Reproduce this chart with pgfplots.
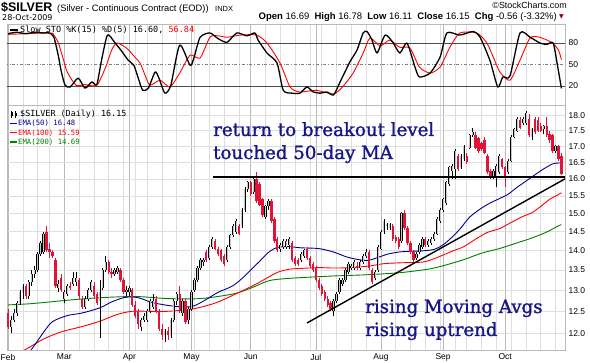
\documentclass[border=0pt]{standalone}
\usepackage{pgfplots}
\pgfplotsset{compat=1.18}
\usepackage{pgfplotstable}
\usepackage{fontspec}
\setmainfont{Liberation Sans}
\newfontfamily\monof{DejaVu Sans Mono}
\newfontfamily\dejavu{DejaVu Sans}
\newfontfamily\annotf[FakeBold=1.3]{DejaVu Serif}
\definecolor{annot}{RGB}{22,22,135}
\definecolor{emaB}{RGB}{0,0,150}
\definecolor{emaR}{RGB}{255,0,0}
\definecolor{emaG}{RGB}{0,128,0}
\definecolor{candR}{RGB}{225,20,55}
\definecolor{gridL}{RGB}{222,222,222}
\definecolor{gridM}{RGB}{185,185,185}

% daily OHLC (price, $)
\pgfplotstableread{
i O H L C
0 12.45 12.55 12.10 12.15
1 12.15 12.40 12.00 12.30
2 12.30 12.55 12.25 12.45
3 12.45 12.75 12.40 12.70
4 12.70 13.00 12.65 12.95
5 12.95 13.15 12.80 13.10
6 13.10 13.15 12.80 12.85
7 12.85 13.25 12.80 13.20
8 13.20 13.50 13.10 13.40
9 13.40 13.60 13.30 13.50
10 13.50 13.95 13.45 13.90
11 13.90 14.25 13.85 14.20
12 13.95 14.50 13.90 14.45
13 14.50 14.65 13.95 14.00
14 14.05 14.20 13.80 13.95
15 13.95 14.00 13.80 13.85
16 13.75 13.80 13.05 13.10
17 13.05 13.25 12.95 13.15
18 13.30 13.40 12.95 13.00
19 12.80 13.00 12.70 12.95
20 12.90 13.15 12.85 13.10
21 13.10 13.20 13.00 13.05
22 13.15 13.45 13.10 13.30
23 13.20 13.45 13.10 13.30
24 13.25 13.30 12.80 12.85
25 12.80 12.85 12.55 12.60
26 12.60 12.85 12.55 12.80
27 12.80 13.05 12.75 13.00
28 13.00 13.25 12.95 13.20
29 13.10 13.20 12.80 12.85
30 12.90 12.95 12.65 12.70
31 12.75 13.25 11.90 12.95
32 13.05 13.55 13.00 13.50
33 13.50 13.85 13.45 13.70
34 13.70 13.75 13.40 13.45
35 13.45 13.55 13.30 13.40
36 13.40 13.55 13.35 13.50
37 13.45 13.60 13.40 13.55
38 13.50 13.55 13.20 13.25
39 13.25 13.30 12.90 12.95
40 12.95 13.10 12.85 13.00
41 12.95 13.10 12.85 13.05
42 13.00 13.05 12.60 12.65
43 12.65 12.75 12.35 12.40
44 12.50 12.55 12.10 12.20
45 12.15 12.35 12.05 12.30
46 12.30 12.45 12.25 12.40
47 12.30 12.55 12.25 12.50
48 12.50 12.80 12.45 12.75
49 12.60 12.90 12.55 12.75
50 12.80 12.85 12.45 12.50
51 12.50 12.55 12.05 12.10
52 12.10 12.20 11.85 11.95
53 11.95 12.10 11.80 12.05
54 12.05 12.15 11.85 11.95
55 11.95 12.35 11.90 12.30
56 12.30 12.80 12.25 12.75
57 12.75 12.95 12.65 12.90
58 12.90 13.10 12.45 12.50
59 12.45 12.80 12.40 12.75
60 12.75 12.80 12.20 12.25
61 12.30 12.60 12.20 12.55
62 12.55 13.00 12.50 12.95
63 13.00 13.30 12.95 13.25
64 13.25 13.60 13.20 13.55
65 13.55 13.80 13.50 13.75
66 13.70 13.80 13.60 13.75
67 13.95 14.00 13.70 13.75
68 13.80 14.15 13.75 14.10
69 14.10 14.35 14.05 14.30
70 14.25 14.30 14.00 14.05
71 14.05 14.10 13.85 13.90
72 14.00 14.05 13.70 13.75
73 13.85 13.90 13.60 13.65
74 13.75 14.15 13.70 14.10
75 14.10 14.45 14.05 14.40
76 14.40 14.70 14.35 14.65
77 14.50 14.85 14.45 14.80
78 14.65 14.70 14.40 14.45
79 14.65 15.15 14.60 15.10
80 15.10 15.75 15.05 15.70
81 15.70 15.95 15.60 15.90
82 15.90 15.95 15.50 15.55
83 15.60 16.05 15.55 16.00
84 16.00 16.20 15.30 15.35
85 15.85 15.90 15.20 15.25
86 15.40 15.45 14.90 14.95
87 14.90 15.25 14.85 15.20
88 15.20 15.40 15.10 15.35
89 15.35 15.40 14.75 14.80
90 14.85 14.90 14.20 14.25
91 14.30 14.35 13.95 14.00
92 14.05 14.20 13.95 14.15
93 14.10 14.30 14.05 14.25
94 14.10 14.30 14.05 14.25
95 14.15 14.35 14.05 14.30
96 14.20 14.25 13.70 13.75
97 13.80 13.85 13.60 13.65
98 13.75 13.80 13.60 13.65
99 13.75 13.95 13.70 13.90
100 13.85 14.05 13.80 14.00
101 14.05 14.10 13.75 13.80
102 13.80 13.85 13.55 13.60
103 13.65 13.70 13.45 13.50
104 13.55 13.60 13.20 13.25
105 13.25 13.30 13.00 13.05
106 13.10 13.15 12.85 12.90
107 12.95 13.00 12.75 12.80
108 12.80 12.85 12.60 12.65
109 12.70 12.75 12.50 12.55
110 12.50 12.80 12.40 12.75
111 12.75 12.95 12.70 12.90
112 12.95 13.30 12.90 13.25
113 13.15 13.30 13.10 13.25
114 13.25 13.55 13.20 13.50
115 13.45 13.70 13.40 13.65
116 13.55 13.65 13.50 13.60
117 13.55 13.75 13.50 13.70
118 13.60 13.70 13.50 13.55
119 13.55 13.75 13.50 13.70
120 13.70 13.90 13.65 13.85
121 13.85 14.05 13.80 13.95
122 13.95 14.00 13.50 13.55
123 13.50 13.55 13.15 13.20
124 13.30 13.50 13.25 13.45
125 13.50 14.15 13.45 14.10
126 14.05 14.55 14.00 14.50
127 14.50 14.85 14.45 14.80
128 14.65 14.75 14.55 14.70
129 14.60 14.75 14.55 14.70
130 14.65 14.70 14.25 14.30
131 14.35 14.40 14.20 14.25
132 14.30 14.35 14.05 14.10
133 14.25 15.05 14.20 15.00
134 15.00 15.10 14.55 14.60
135 14.60 14.65 14.15 14.20
136 14.20 14.25 13.90 13.95
137 13.95 14.00 13.65 13.75
138 13.80 13.95 13.75 13.90
139 13.95 14.20 13.90 14.15
140 14.10 14.35 14.05 14.30
141 14.30 14.35 14.10 14.15
142 14.15 14.30 14.10 14.25
143 14.20 14.35 14.15 14.30
144 14.30 14.50 14.25 14.45
145 14.45 14.90 14.40 14.85
146 14.80 15.15 14.75 15.10
147 15.10 15.45 15.05 15.40
148 15.30 15.95 15.25 15.90
149 15.85 16.40 15.80 16.35
150 16.25 16.45 16.00 16.40
151 16.30 16.90 16.00 16.85
152 16.70 16.75 16.25 16.30
153 16.35 16.75 16.30 16.70
154 16.60 17.05 16.55 17.00
155 16.70 16.80 16.45 16.50
156 16.95 17.40 16.90 17.35
157 17.35 17.60 17.30 17.45
158 17.35 17.45 16.90 16.95
159 17.25 17.30 16.80 16.85
160 17.10 17.15 16.85 16.90
161 17.20 17.30 16.75 16.80
162 16.70 16.75 16.15 16.20
163 16.25 16.30 16.00 16.05
164 16.10 16.30 16.00 16.25
165 16.10 16.45 15.75 16.40
166 16.20 16.75 16.15 16.70
167 16.60 16.65 16.30 16.35
168 16.35 16.40 15.75 16.05
169 16.20 16.60 16.15 16.55
170 16.55 17.35 16.50 17.30
171 17.30 17.60 17.25 17.55
172 17.50 17.95 17.45 17.90
173 17.85 17.95 17.55 17.60
174 17.75 17.95 17.70 17.90
175 17.75 18.15 17.70 18.10
176 17.90 18.05 17.30 17.35
177 17.30 17.60 17.20 17.55
178 17.90 17.95 17.40 17.45
179 17.85 17.95 17.45 17.50
180 17.65 17.75 17.45 17.50
181 17.55 17.70 17.40 17.65
182 17.65 17.95 17.30 17.35
183 17.40 17.50 17.10 17.20
184 17.35 17.40 16.80 16.85
185 16.85 17.05 16.80 17.00
186 17.00 17.05 16.55 16.60
187 16.69 16.78 16.11 16.15
}\price

\pgfplotstableread{
i v
5 11.45
8 11.65
12 12.02
15 12.26
20 12.40
25 12.46
31 12.58
35 12.72
39 12.82
42 12.84
45 12.80
48 12.72
52 12.66
56 12.62
60 12.60
63 12.63
67 12.78
71 12.95
76 13.11
80 13.35
82 13.50
85 13.72
88 13.95
91 14.08
95 14.10
99 14.07
105 14.05
110 13.96
115 13.82
121 13.74
125 13.82
128 13.90
132 13.96
136 13.98
140 13.99
144 14.03
147 14.15
150 14.35
153 14.60
156 14.90
160 15.15
163 15.30
166 15.42
169 15.55
172 15.75
175 15.93
178 16.12
181 16.30
184 16.45
186 16.48
187 16.48
}\emaA

\pgfplotstableread{
i v
3 11.55
7 11.68
12 11.87
18 12.03
25 12.15
31 12.27
37 12.43
42 12.50
48 12.50
54 12.50
62 12.55
67 12.63
71 12.72
76 12.88
83 13.12
87 13.28
91 13.44
95 13.52
99 13.54
105 13.56
110 13.55
116 13.56
122 13.60
127 13.66
132 13.68
136 13.69
140 13.70
143 13.76
146 13.85
150 13.98
154 14.10
158 14.30
162 14.48
166 14.58
170 14.75
174 14.92
177 15.02
180 15.20
183 15.40
186 15.54
187 15.59
}\emaB

\pgfplotstableread{
i v
0 12.65
8 12.68
20 12.76
31 12.82
42 12.85
48 12.83
54 12.80
65 12.80
76 12.91
82 13.05
88 13.23
93 13.28
99 13.31
110 13.35
121 13.38
132 13.43
140 13.50
144 13.55
150 13.67
155 13.79
160 13.93
166 14.05
172 14.20
177 14.33
182 14.49
186 14.66
187 14.69
}\emaC

\pgfplotstableread{
i k
0 93
3 95
6 93
9 95
12 94
14 94
15.5 88
17 62
18 40
19.3 21
21 18.6
23.7 31
26 17
28.3 25.6
30 22
31.6 56
33.6 91
36 81
38.5 68
40.6 56
42.5 49
44 31
45.5 14
47.4 17
49.7 39.5
51 31
53 10
55 21
58 77
61.5 49
62.8 59
64.9 88
68.2 94
71 86
74 81
77.3 94
80.7 90
83.4 94
84.5 84
87.5 66
90.9 52
93 14
96 10
98.6 10
101 18.6
103 12
105.4 10
107.8 11.6
110 7.5
112.2 25.6
115.5 53.5
117.9 70
120 94
121.3 96
123 84
124.7 66
127.4 91
130 81
132.4 66
134.8 80
137.5 46.5
139 32.6
142.6 38
146 60.5
148.3 94
152.7 91
157.1 96
159.5 88
162.8 56
165.5 18.6
167.2 32.6
169.6 34
173 94
176.4 88
179.7 80
182 78
184.2 80
185.6 50
187 16.6
}\stoK

\pgfplotstableread{
i d
0 92
14 94
15.5 91
17 80
18.5 60
20 39.5
23 21
26 22
30 21
33 46.5
35 70
36.8 80
40 73
42.5 62
44.6 52
46.5 33
48 21
51.4 28
54.7 18.6
58 38
61.5 63
64.9 59
68.2 88
71 90
74 88
78.4 91
84 91
87.5 80
91.9 52
95.3 18.6
98.6 11.6
104 14
110 9
113 18.6
116.6 38
120 66
122.3 87
125.7 76
129 84
132.4 74
135.8 73
139 46.5
142.6 38
146 46.5
149.3 74
152.7 94
158.4 94
161.8 80
164 60
166.2 39.5
169.6 28
173 56
176.4 87
179.7 88
184 80
186 70
187 56.84
}\stoD

\pgfplotstableread{
i p
101 12.23
188.2 16.0
}\trend

\pgfplotstableread{
i p
69.3 16.06
188.2 16.06
}\breakout

\pgfplotsset{
  panel/.style={
    scale only axis, width=558pt, xmin=-0.35, xmax=188.2,
    axis line style={gray!55},
    major tick length=0pt, minor tick length=0pt,
    xtick={0,19,41,62,82,104,126,147,168},
    minor xtick={5,10,14,24,29,34,39,43,47,52,57,63,68,73,78,87,92,97,102,106,111,116,121,131,136,141,146,151,155,160,165,170,175,180,185},
    xmajorgrids, xminorgrids,
    major grid style={gridM, line width=0.5pt},
    minor grid style={gridL, line width=0.5pt},
    yticklabel pos=right,
    tick label style={font=\fontsize{8.5}{10}\selectfont},
    every axis plot/.append style={line join=round},
  },
  wick/.style={draw=none, mark=none, forget plot,
    error bars/y dir=plus, error bars/y explicit, error bars/error mark=none,
    error bars/error bar style={draw=#1, solid, line width=0.55pt}},
  body/.style 2 args={draw=none, mark=none, forget plot,
    error bars/y dir=plus, error bars/y explicit, error bars/error mark=none,
    error bars/error bar style={draw=#1, solid, line width=#2, line cap=butt}},
}

\begin{document}
\begin{tikzpicture}[x=1pt,y=1pt]
\path[use as bounding box, fill=white] (0,0) rectangle (590,363);

% ---------- stochastic panel ----------
\begin{axis}[panel, at={(7pt,258pt)}, anchor=south west, height=81pt,
  ymin=-6.5, ymax=106.5, ytick={20,50,80}, yticklabels={20,50,80},
  xticklabels={}]
\addplot[black!70, line width=0.6pt, forget plot] coordinates {(-1,80) (190,80)};
\addplot[black!70, line width=0.6pt, forget plot] coordinates {(-1,20) (190,20)};
\addplot[gray, dash dot, line width=0.7pt, forget plot] coordinates {(-1,50) (190,50)};
\addplot[emaR, line width=0.9pt, smooth, tension=0.4] table[x=i, y=d]{\stoD};
\addplot[black, line width=1.3pt, smooth, tension=0.4] table[x=i, y=k]{\stoK};
\end{axis}

% ---------- price panel (log scale, plotted as ln of price) ----------
\begin{axis}[panel, at={(7pt,13pt)}, anchor=south west, height=245pt,
  ymin=2.45359, ymax=2.91017,
  ytick={2.484907,2.525729,2.564949,2.602690,2.639057,2.674149,2.708050,2.740840,2.772589,2.803360,2.833213,2.862201,2.890372},
  yticklabels={12.0,12.5,13.0,13.5,14.0,14.5,15.0,15.5,16.0,16.5,17.0,17.5,18.0},
  minor ytick={2.484907,2.525729,2.564949,2.602690,2.639057,2.674149,2.708050,2.740840,2.772589,2.803360,2.833213,2.862201,2.890372},
  yminorgrids,
  xticklabels={Feb,Mar,Apr,May,Jun,Jul,Aug,Sep,Oct},
  xticklabel style={yshift=-0.5pt}]
% moving averages
\addplot[emaG, line width=0.9pt, smooth, tension=0.5] table[x=i, y expr=ln(\thisrow{v})]{\emaC};
\addplot[emaR, line width=0.9pt, smooth, tension=0.5] table[x=i, y expr=ln(\thisrow{v})]{\emaB};
\addplot[emaB, line width=0.9pt, smooth, tension=0.5] table[x=i, y expr=ln(\thisrow{v})]{\emaA};
% candles: up
\addplot[restrict expr to domain={\thisrow{C}-\thisrow{O}}{0:10}, wick=black]
  table[x=i, y expr=ln(\thisrow{L}), y error plus expr=ln(\thisrow{H})-ln(\thisrow{L})]{\price};
\addplot[restrict expr to domain={\thisrow{C}-\thisrow{O}}{0:10}, body={black}{2.3pt}]
  table[x=i, y expr=ln(\thisrow{O}), y error plus expr=ln(\thisrow{C})-ln(\thisrow{O})]{\price};
\addplot[restrict expr to domain={\thisrow{C}-\thisrow{O}}{0:10}, body={gray!45}{0.8pt}]
  table[x=i, y expr=ln(\thisrow{O}), y error plus expr=ln(\thisrow{C})-ln(\thisrow{O})]{\price};
% candles: down
\addplot[restrict expr to domain={\thisrow{O}-\thisrow{C}}{0.0001:10}, wick=candR]
  table[x=i, y expr=ln(\thisrow{L}), y error plus expr=ln(\thisrow{H})-ln(\thisrow{L})]{\price};
\addplot[restrict expr to domain={\thisrow{O}-\thisrow{C}}{0.0001:10}, body={candR}{2.3pt}]
  table[x=i, y expr=ln(\thisrow{C}), y error plus expr=ln(\thisrow{O})-ln(\thisrow{C})]{\price};
% annotation lines
\addplot[black, line width=2pt] table[x=i, y expr=ln(\thisrow{p})]{\breakout};
\addplot[black, line width=1.4pt] table[x=i, y expr=ln(\thisrow{p})]{\trend};
\end{axis}

% ---------- header ----------
\node[anchor=base west, inner sep=0] at (1,351) {\fontsize{12.5}{13}\selectfont\bfseries \$SILVER};
\node[anchor=base west, inner sep=0] at (57,351) {\fontsize{9.3}{10}\selectfont (Silver - Continuous Contract (EOD))};
\node[anchor=base west, inner sep=0] at (215,351) {\fontsize{7.5}{8}\selectfont INDX};
\node[anchor=base west, inner sep=0] at (2,342) {\dejavu\fontsize{8}{9}\selectfont 28-Oct-2009};
\node[anchor=base east, inner sep=0] at (567,354) {\fontsize{8.9}{10}\selectfont \textcopyright StockCharts.com};
\node[anchor=base east, inner sep=0] at (557,343) {\fontsize{9.5}{10}\selectfont \textbf{Open} 16.69\ \ \textbf{High} 16.78\ \ \textbf{Low} 16.11\ \ \textbf{Close} 16.15\ \ \textbf{Chg} -0.56 (-3.32\%)};
\node[anchor=base west, inner sep=0, text=red!60!black] at (559,344) {\dejavu\fontsize{6}{6}\selectfont ▼};

% ---------- legends ----------
\draw[black, line width=1.6pt] (10,333) -- (18,333);
\node[anchor=base west, inner sep=0] at (20,330) {\monof\fontsize{8.5}{9}\selectfont Slow STO \%K(15) \%D(5) 16.60, \textcolor{red}{56.84}};

\draw[black, line width=0.5pt] (11.5,245) -- (11.5,252) (15.5,245) -- (15.5,252);
\fill[black] (10.5,247) rectangle (12.5,250.5);
\fill[black] (14.5,246.5) rectangle (16.5,249.5);
\node[anchor=base west, inner sep=0] at (20,246.5) {\monof\fontsize{8.4}{9}\selectfont \$SILVER (Daily) 16.15};
\draw[emaB, line width=1.2pt] (10,239.7) -- (17,239.7);
\node[anchor=base west, inner sep=0, text=emaB] at (18,237) {\monof\fontsize{7.3}{8}\selectfont EMA(50) 16.48};
\draw[emaR, line width=1.2pt] (10,230.7) -- (17,230.7);
\node[anchor=base west, inner sep=0, text=emaR] at (18,227.5) {\monof\fontsize{7.3}{8}\selectfont EMA(100) 15.59};
\draw[emaG, line width=1.2pt] (10,221) -- (17,221);
\node[anchor=base west, inner sep=0, text=emaG] at (18,218) {\monof\fontsize{7.3}{8}\selectfont EMA(200) 14.69};

% ---------- annotations ----------
\node[anchor=base west, inner sep=0, text=annot] at (213,227) {\annotf\fontsize{18.2}{20}\selectfont return to breakout level};
\node[anchor=base west, inner sep=0, text=annot] at (213,204) {\annotf\fontsize{18.2}{20}\selectfont touched 50-day MA};
\node[anchor=base west, inner sep=0, text=annot] at (365,50) {\annotf\fontsize{18.2}{20}\selectfont rising Moving Avgs};
\node[anchor=base west, inner sep=0, text=annot] at (365,27) {\annotf\fontsize{18.2}{20}\selectfont rising uptrend};
\end{tikzpicture}
\end{document}
